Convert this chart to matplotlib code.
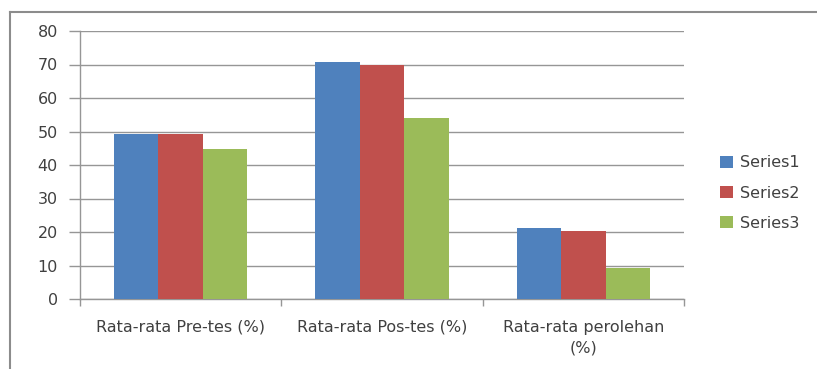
import matplotlib
matplotlib.use("Agg")
import matplotlib.pyplot as plt
import numpy as np
from matplotlib.lines import Line2D

categories = ["Rata-rata Pre-tes (%)", "Rata-rata Pos-tes (%)", "Rata-rata perolehan\n(%)"]
series_names = ["Series1", "Series2", "Series3"]
series1 = [49.3, 70.7, 21.1]
series2 = [49.3, 69.8, 20.3]
series3 = [44.8, 53.9, 9.2]
colors = ["#4F81BD", "#C0504D", "#9BBB59"]
yticks = [0, 10, 20, 30, 40, 50, 60, 70, 80]

fig = plt.figure(figsize=(8.17, 3.69), dpi=100)
ax = fig.add_axes([80 / 817, 1 - 299 / 369, (684 - 80) / 817, (299 - 31) / 369])

x = np.arange(len(categories))
width = 0.221
for i, (vals, name, c) in enumerate(zip([series1, series2, series3], series_names, colors)):
    ax.bar(x + (i - 1) * width, vals, width, color=c, label=name, zorder=3)

ax.set_xlim(-0.5, len(categories) - 0.5)
ax.set_ylim(0, 80)
ax.set_yticks(yticks)
ax.yaxis.grid(True, color="#969696", linewidth=1.0, zorder=0)
ax.tick_params(axis="y", length=8, width=1, color="#969696", labelsize=11.5,
               labelcolor="#404040", pad=8)

# category labels centred, tick marks at category boundaries
ax.set_xticks(x)
ax.set_xticklabels(categories, fontsize=11.5, color="#404040", linespacing=1.5)
ax.tick_params(axis="x", length=0, pad=15)
ax.set_xticks(np.arange(len(categories) + 1) - 0.5, minor=True)
ax.tick_params(axis="x", which="minor", length=5, width=1, color="#969696")

for side in ["top", "right"]:
    ax.spines[side].set_visible(False)
for side in ["left", "bottom"]:
    ax.spines[side].set_color("#969696")
    ax.spines[side].set_linewidth(1.0)

ax.legend(loc="center left", bbox_to_anchor=(712 / 817, 1 - 193 / 369),
          bbox_transform=fig.transFigure, frameon=False, fontsize=11.5,
          handlelength=0.8, handleheight=0.8, labelspacing=0.95, handletextpad=0.45,
          labelcolor="#404040", borderpad=0)

# outer chart frame (left and top edges only)
fig.add_artist(Line2D([10 / 817, 10 / 817], [0, 1 - 12 / 369],
                      transform=fig.transFigure, color="#8c8c8c", linewidth=1.5))
fig.add_artist(Line2D([10 / 817, 1], [1 - 12 / 369, 1 - 12 / 369],
                      transform=fig.transFigure, color="#8c8c8c", linewidth=1.5))

fig.savefig("out.png", dpi=100)
plt.close(fig)
